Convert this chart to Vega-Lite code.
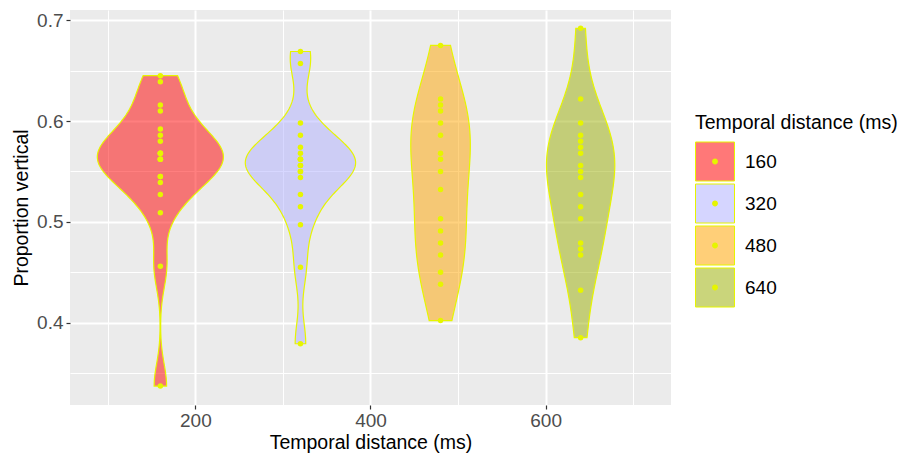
{
  "$schema": "https://vega.github.io/schema/vega-lite/v6.json",
  "width": 601,
  "height": 395,
  "autosize": {"type": "none"},
  "padding": {"left": 70, "top": 10, "right": 230, "bottom": 49},
  "background": "#FFFFFF",
  "view": {"fill": "#EBEBEB", "stroke": null},
  "config": {
    "font": "Liberation Sans",
    "legend": {"padding": 0}
  },
  "data": {
    "values": [
      {"group": 160, "prop": 0.645}, {"group": 160, "prop": 0.639}, {"group": 160, "prop": 0.616}, {"group": 160, "prop": 0.610},
      {"group": 160, "prop": 0.592}, {"group": 160, "prop": 0.586}, {"group": 160, "prop": 0.580}, {"group": 160, "prop": 0.568},
      {"group": 160, "prop": 0.568}, {"group": 160, "prop": 0.568},
      {"group": 160, "prop": 0.562}, {"group": 160, "prop": 0.562}, {"group": 160, "prop": 0.562},
      {"group": 160, "prop": 0.545}, {"group": 160, "prop": 0.545}, {"group": 160, "prop": 0.539}, {"group": 160, "prop": 0.527},
      {"group": 160, "prop": 0.509}, {"group": 160, "prop": 0.456}, {"group": 160, "prop": 0.337},
      {"group": 320, "prop": 0.669}, {"group": 320, "prop": 0.657}, {"group": 320, "prop": 0.598}, {"group": 320, "prop": 0.586},
      {"group": 320, "prop": 0.574}, {"group": 320, "prop": 0.568}, {"group": 320, "prop": 0.562}, {"group": 320, "prop": 0.562},
      {"group": 320, "prop": 0.562}, {"group": 320, "prop": 0.556}, {"group": 320, "prop": 0.556},
      {"group": 320, "prop": 0.550}, {"group": 320, "prop": 0.550}, {"group": 320, "prop": 0.544}, {"group": 320, "prop": 0.527},
      {"group": 320, "prop": 0.515}, {"group": 320, "prop": 0.497}, {"group": 320, "prop": 0.455}, {"group": 320, "prop": 0.379},
      {"group": 480, "prop": 0.675}, {"group": 480, "prop": 0.622}, {"group": 480, "prop": 0.616}, {"group": 480, "prop": 0.610},
      {"group": 480, "prop": 0.598}, {"group": 480, "prop": 0.586}, {"group": 480, "prop": 0.568}, {"group": 480, "prop": 0.562},
      {"group": 480, "prop": 0.550}, {"group": 480, "prop": 0.532}, {"group": 480, "prop": 0.503}, {"group": 480, "prop": 0.491},
      {"group": 480, "prop": 0.479}, {"group": 480, "prop": 0.467}, {"group": 480, "prop": 0.450}, {"group": 480, "prop": 0.438},
      {"group": 480, "prop": 0.402},
      {"group": 640, "prop": 0.692}, {"group": 640, "prop": 0.622}, {"group": 640, "prop": 0.598}, {"group": 640, "prop": 0.586},
      {"group": 640, "prop": 0.580}, {"group": 640, "prop": 0.574}, {"group": 640, "prop": 0.568}, {"group": 640, "prop": 0.556},
      {"group": 640, "prop": 0.550}, {"group": 640, "prop": 0.544}, {"group": 640, "prop": 0.527}, {"group": 640, "prop": 0.515},
      {"group": 640, "prop": 0.503}, {"group": 640, "prop": 0.479}, {"group": 640, "prop": 0.473}, {"group": 640, "prop": 0.467},
      {"group": 640, "prop": 0.432}, {"group": 640, "prop": 0.385}
    ]
  },
  "encoding": {
    "y": {
      "field": "prop",
      "type": "quantitative",
      "scale": {"domain": [0.3182, 0.7102], "nice": false, "zero": false},
      "axis": {
        "title": "Proportion vertical",
        "values": [0.35, 0.4, 0.45, 0.5, 0.55, 0.6, 0.65, 0.7],
        "format": ".1f",
        "labelExpr": "abs(datum.value * 10 - round(datum.value * 10)) < 0.001 ? datum.label : ''",
        "grid": true,
        "gridColor": "#FFFFFF",
        "gridWidth": {"condition": {"test": "abs(datum.value * 10 - round(datum.value * 10)) < 0.001", "value": 2}, "value": 1},
        "tickOpacity": {"condition": {"test": "abs(datum.value * 10 - round(datum.value * 10)) < 0.001", "value": 1}, "value": 0},
        "tickColor": "#333333",
        "tickSize": 4,
        "tickWidth": 1.2,
        "domain": false,
        "labelColor": "#4D4D4D",
        "labelFontSize": 19,
        "labelPadding": 3,
        "titleFontSize": 19.5,
        "titleFontWeight": "normal",
        "titleColor": "#000000",
        "titlePadding": 5
      }
    }
  },
  "layer": [
    {
      "transform": [
        {"filter": "datum.group === 160"},
        {"density": "prop", "groupby": ["group"], "bandwidth": 0.022, "steps": 200, "as": ["prop", "density"]},
        {"joinaggregate": [{"op": "max", "field": "density", "as": "dmax"}]},
        {"calculate": "datum.group - 72 * datum.density / datum.dmax", "as": "xlo"},
        {"calculate": "datum.group + 72 * datum.density / datum.dmax", "as": "xhi"}
      ],
      "mark": {"type": "area", "orient": "horizontal", "fillOpacity": 0.5, "stroke": "#E6F500", "strokeWidth": 1.2},
      "encoding": {
        "x": {
          "field": "xlo", "type": "quantitative",
          "scale": {"domain": [56.8, 743.2], "nice": false, "zero": false},
          "axis": {
            "title": "Temporal distance (ms)",
            "values": [100, 200, 300, 400, 500, 600, 700],
            "labelExpr": "datum.value % 200 === 0 ? datum.label : ''",
            "grid": true, "gridColor": "#FFFFFF",
            "gridWidth": {"condition": {"test": "datum.value % 200 === 0", "value": 2}, "value": 1},
            "tickOpacity": {"condition": {"test": "datum.value % 200 === 0", "value": 1}, "value": 0},
            "tickColor": "#333333", "tickSize": 4, "tickWidth": 1.2, "domain": false,
            "labelColor": "#4D4D4D", "labelFontSize": 19, "labelPadding": 2,
            "titleFontSize": 19.5, "titleFontWeight": "normal", "titleColor": "#000000", "titlePadding": 3
          }
        },
        "x2": {"field": "xhi"},
        "fill": {
          "field": "group", "type": "nominal",
          "scale": {"domain": [160, 320, 480, 640], "range": ["#FF0000", "#AFAFFF", "#FFA500", "#9BAF05"]},
          "legend": {
            "title": "Temporal distance (ms)",
            "orient": "none", "legendX": 625, "legendY": 104,
            "symbolType": "square", "symbolSize": 1521,
            "symbolStrokeColor": "#E6F500", "symbolStrokeWidth": 1,
            "titleFontSize": 19.5, "titleFontWeight": "normal", "titleColor": "#000000", "titlePadding": 8, "titleLimit": 400,
            "labelFontSize": 19, "labelColor": "#000000", "labelOffset": 10,
            "rowPadding": -5,
            "encode": {"symbols": {"update": {"fillOpacity": {"value": 0.53}}}}
          }
        }
      }
    },
    {
      "transform": [
        {"filter": "datum.group === 320"},
        {"density": "prop", "groupby": ["group"], "bandwidth": 0.022, "steps": 200, "as": ["prop", "density"]},
        {"joinaggregate": [{"op": "max", "field": "density", "as": "dmax"}]},
        {"calculate": "datum.group - 63 * datum.density / datum.dmax", "as": "xlo"},
        {"calculate": "datum.group + 63 * datum.density / datum.dmax", "as": "xhi"}
      ],
      "mark": {"type": "area", "orient": "horizontal", "fillOpacity": 0.5, "stroke": "#E6F500", "strokeWidth": 1.2},
      "encoding": {
        "x": {
          "field": "xlo", "type": "quantitative",
          "scale": {"domain": [56.8, 743.2], "nice": false, "zero": false},
          "axis": {
            "title": "Temporal distance (ms)",
            "values": [100, 200, 300, 400, 500, 600, 700],
            "labelExpr": "datum.value % 200 === 0 ? datum.label : ''",
            "grid": true, "gridColor": "#FFFFFF",
            "gridWidth": {"condition": {"test": "datum.value % 200 === 0", "value": 2}, "value": 1},
            "tickOpacity": {"condition": {"test": "datum.value % 200 === 0", "value": 1}, "value": 0},
            "tickColor": "#333333", "tickSize": 4, "tickWidth": 1.2, "domain": false,
            "labelColor": "#4D4D4D", "labelFontSize": 19, "labelPadding": 2,
            "titleFontSize": 19.5, "titleFontWeight": "normal", "titleColor": "#000000", "titlePadding": 3
          }
        },
        "x2": {"field": "xhi"},
        "fill": {"field": "group", "type": "nominal", "scale": {"domain": [160, 320, 480, 640], "range": ["#FF0000", "#AFAFFF", "#FFA500", "#9BAF05"]}}
      }
    },
    {
      "transform": [
        {"filter": "datum.group === 480"},
        {"density": "prop", "groupby": ["group"], "bandwidth": 0.043, "steps": 200, "as": ["prop", "density"]},
        {"joinaggregate": [{"op": "max", "field": "density", "as": "dmax"}]},
        {"calculate": "datum.group - 34 * datum.density / datum.dmax", "as": "xlo"},
        {"calculate": "datum.group + 34 * datum.density / datum.dmax", "as": "xhi"}
      ],
      "mark": {"type": "area", "orient": "horizontal", "fillOpacity": 0.5, "stroke": "#E6F500", "strokeWidth": 1.2},
      "encoding": {
        "x": {
          "field": "xlo", "type": "quantitative",
          "scale": {"domain": [56.8, 743.2], "nice": false, "zero": false},
          "axis": {
            "title": "Temporal distance (ms)",
            "values": [100, 200, 300, 400, 500, 600, 700],
            "labelExpr": "datum.value % 200 === 0 ? datum.label : ''",
            "grid": true, "gridColor": "#FFFFFF",
            "gridWidth": {"condition": {"test": "datum.value % 200 === 0", "value": 2}, "value": 1},
            "tickOpacity": {"condition": {"test": "datum.value % 200 === 0", "value": 1}, "value": 0},
            "tickColor": "#333333", "tickSize": 4, "tickWidth": 1.2, "domain": false,
            "labelColor": "#4D4D4D", "labelFontSize": 19, "labelPadding": 2,
            "titleFontSize": 19.5, "titleFontWeight": "normal", "titleColor": "#000000", "titlePadding": 3
          }
        },
        "x2": {"field": "xhi"},
        "fill": {"field": "group", "type": "nominal", "scale": {"domain": [160, 320, 480, 640], "range": ["#FF0000", "#AFAFFF", "#FFA500", "#9BAF05"]}}
      }
    },
    {
      "transform": [
        {"filter": "datum.group === 640"},
        {"density": "prop", "groupby": ["group"], "bandwidth": 0.038, "steps": 200, "as": ["prop", "density"]},
        {"joinaggregate": [{"op": "max", "field": "density", "as": "dmax"}]},
        {"calculate": "datum.group - 39 * datum.density / datum.dmax", "as": "xlo"},
        {"calculate": "datum.group + 39 * datum.density / datum.dmax", "as": "xhi"}
      ],
      "mark": {"type": "area", "orient": "horizontal", "fillOpacity": 0.5, "stroke": "#E6F500", "strokeWidth": 1.2},
      "encoding": {
        "x": {
          "field": "xlo", "type": "quantitative",
          "scale": {"domain": [56.8, 743.2], "nice": false, "zero": false},
          "axis": {
            "title": "Temporal distance (ms)",
            "values": [100, 200, 300, 400, 500, 600, 700],
            "labelExpr": "datum.value % 200 === 0 ? datum.label : ''",
            "grid": true, "gridColor": "#FFFFFF",
            "gridWidth": {"condition": {"test": "datum.value % 200 === 0", "value": 2}, "value": 1},
            "tickOpacity": {"condition": {"test": "datum.value % 200 === 0", "value": 1}, "value": 0},
            "tickColor": "#333333", "tickSize": 4, "tickWidth": 1.2, "domain": false,
            "labelColor": "#4D4D4D", "labelFontSize": 19, "labelPadding": 2,
            "titleFontSize": 19.5, "titleFontWeight": "normal", "titleColor": "#000000", "titlePadding": 3
          }
        },
        "x2": {"field": "xhi"},
        "fill": {"field": "group", "type": "nominal", "scale": {"domain": [160, 320, 480, 640], "range": ["#FF0000", "#AFAFFF", "#FFA500", "#9BAF05"]}}
      }
    },
    {
      "mark": {"type": "point", "filled": true, "size": 30, "color": "#E6F500", "opacity": 1},
      "encoding": {
        "x": {
          "field": "group", "type": "quantitative",
          "scale": {"domain": [56.8, 743.2], "nice": false, "zero": false},
          "axis": {
            "title": "Temporal distance (ms)",
            "values": [100, 200, 300, 400, 500, 600, 700],
            "labelExpr": "datum.value % 200 === 0 ? datum.label : ''",
            "grid": true, "gridColor": "#FFFFFF",
            "gridWidth": {"condition": {"test": "datum.value % 200 === 0", "value": 2}, "value": 1},
            "tickOpacity": {"condition": {"test": "datum.value % 200 === 0", "value": 1}, "value": 0},
            "tickColor": "#333333", "tickSize": 4, "tickWidth": 1.2, "domain": false,
            "labelColor": "#4D4D4D", "labelFontSize": 19, "labelPadding": 2,
            "titleFontSize": 19.5, "titleFontWeight": "normal", "titleColor": "#000000", "titlePadding": 3
          }
        },
        "opacity": {
          "field": "group", "type": "ordinal",
          "scale": {"range": [1, 1]},
          "legend": {
            "title": "Temporal distance (ms)",
            "orient": "none", "legendX": 625, "legendY": 104,
            "symbolType": "M-1,-1M1,1M0.15,0A0.15,0.15,0,1,1,-0.15,0A0.15,0.15,0,1,1,0.15,0Z",
            "symbolSize": 1521,
            "symbolFillColor": "#E6F500", "symbolStrokeColor": "transparent", "symbolStrokeWidth": 1,
            "titleFontSize": 19.5, "titleFontWeight": "normal", "titleOpacity": 0, "titlePadding": 8, "titleLimit": 400,
            "labelFontSize": 19, "labelOpacity": 0, "labelOffset": 10,
            "rowPadding": -5
          }
        }
      }
    }
  ]
}
